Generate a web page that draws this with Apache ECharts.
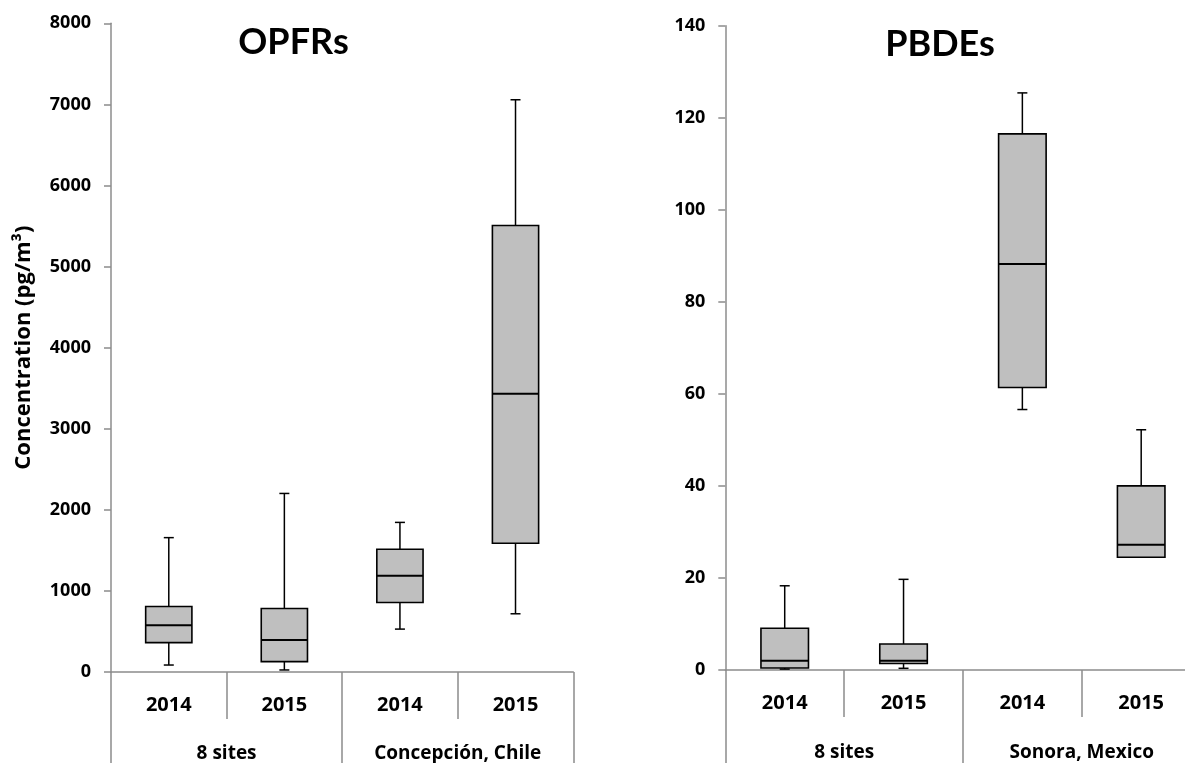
<!DOCTYPE html>
<html>
<head>
<meta charset="utf-8">
<script src="https://cdn.jsdelivr.net/npm/echarts@6/dist/echarts.min.js"></script>
<style>
html,body{margin:0;padding:0;background:#fff;overflow:hidden;}
#chart{width:1230px;height:763px;}
</style>
</head>
<body>
<div id="chart"></div>
<script>
// ---- data ----
const yearsLeft = ['2014', '2015', '2014', '2015'];
const groupsLeft = ['8 sites', 'Concepción, Chile'];
const yearsRight = ['2014', '2015', '2014', '2015'];
const groupsRight = ['8 sites', 'Sonora, Mexico'];

// OPFRs (pg/m3): low whisker, Q1, median, Q3, high whisker
const opfrLow  = [86, 25, 529, 718];
const opfrQ1   = [362, 128, 857, 1587];
const opfrMed  = [578, 394, 1186, 3432];
const opfrQ3   = [808, 783, 1513, 5507];
const opfrHigh = [1657, 2202, 1845, 7057];

// PBDEs (pg/m3)
const pbdeLow  = [0.2, 0.37, 56.6, 24.5];
const pbdeQ1   = [0.43, 1.4, 61.4, 24.5];
const pbdeMed  = [2.0, 2.0, 88.2, 27.2];
const pbdeQ3   = [9.06, 5.65, 116.5, 40.0];
const pbdeHigh = [18.3, 19.7, 125.4, 52.2];

const opfrTicks = { min: 0, max: 8000, interval: 1000 };
const pbdeTicks = { min: 0, max: 140, interval: 20 };

function rows(lo, q1, md, q3, hi) {
  return lo.map((v, i) => [i, lo[i], q1[i], md[i], q3[i], hi[i]]);
}

const FONT = '"Open Sans", "Noto Sans", sans-serif';
const TFONT = 'Lato, "Open Sans", sans-serif';
const AXIS_GRAY = '#8c8c8c';

function renderBox(params, api) {
  const x = api.value(0);
  const low = api.coord([x, api.value(1)]);
  const q1 = api.coord([x, api.value(2)]);
  const med = api.coord([x, api.value(3)]);
  const q3 = api.coord([x, api.value(4)]);
  const high = api.coord([x, api.value(5)]);
  const bw = api.size([1, 0])[0] * 0.4;
  const cx = low[0];
  const cap = 5;
  const ls = { stroke: '#000', lineWidth: 1.5 };
  return {
    type: 'group',
    children: [
      { type: 'line', shape: { x1: cx, y1: q1[1], x2: cx, y2: low[1] }, style: ls },
      { type: 'line', shape: { x1: cx - cap, y1: low[1], x2: cx + cap, y2: low[1] }, style: ls },
      { type: 'line', shape: { x1: cx, y1: q3[1], x2: cx, y2: high[1] }, style: ls },
      { type: 'line', shape: { x1: cx - cap, y1: high[1], x2: cx + cap, y2: high[1] }, style: ls },
      { type: 'rect', shape: { x: cx - bw / 2, y: q3[1], width: bw, height: q1[1] - q3[1] },
        style: { fill: '#bfbfbf', stroke: '#000', lineWidth: 1.6 } },
      { type: 'line', shape: { x1: cx - bw / 2, y1: med[1], x2: cx + bw / 2, y2: med[1] },
        style: { stroke: '#000', lineWidth: 2 } }
    ]
  };
}

function yearAxis(gridIndex, data) {
  return {
    type: 'category', gridIndex: gridIndex, data: data, position: 'bottom',
    axisLine: { show: true, onZero: false, lineStyle: { color: AXIS_GRAY, width: 1.5 } },
    axisTick: { show: true, interval: 0, length: 47, lineStyle: { color: AXIS_GRAY, width: 1.5 } },
    axisLabel: { interval: 0, margin: 23, color: '#000', fontWeight: 'bold', fontSize: 20, fontFamily: FONT },
    splitLine: { show: false }
  };
}
function groupAxis(gridIndex, data, margin) {
  return {
    type: 'category', gridIndex: gridIndex, data: data, position: 'bottom',
    axisLine: { show: false },
    axisTick: { show: true, interval: 0, length: 110, lineStyle: { color: AXIS_GRAY, width: 1.5 } },
    axisLabel: { interval: 0, margin: margin, color: '#000', fontWeight: 'bold', fontSize: 19, fontFamily: FONT },
    splitLine: { show: false }
  };
}
function valueAxis(gridIndex, t, name) {
  return {
    type: 'value', gridIndex: gridIndex, min: t.min, max: t.max, interval: t.interval,
    name: name, nameLocation: 'middle', nameGap: 76,
    nameTextStyle: { color: '#000', fontWeight: 'bold', fontSize: 22, fontFamily: FONT },
    axisLine: { show: true, lineStyle: { color: AXIS_GRAY, width: 1.5 } },
    axisTick: { show: true, length: 7, lineStyle: { color: AXIS_GRAY, width: 1.5 } },
    axisLabel: { margin: 20, color: '#000', fontWeight: 'bold', fontSize: 18, fontFamily: FONT,
      formatter: function (v) { return String(v); } },
    splitLine: { show: false }
  };
}

const chart = echarts.init(document.getElementById('chart'), null, { renderer: 'canvas' });
chart.setOption({
  animation: false,
  backgroundColor: '#fff',
  grid: [
    { left: 111, top: 23.3, width: 462.3, height: 650.4 },
    { left: 725.3, top: 25.7, width: 475.3, height: 644.3 }
  ],
  xAxis: [
    yearAxis(0, yearsLeft),
    groupAxis(0, groupsLeft, 72),
    yearAxis(1, yearsRight),
    groupAxis(1, groupsRight, 73)
  ],
  yAxis: [
    valueAxis(0, opfrTicks, 'Concentration (pg/m³)'),
    valueAxis(1, pbdeTicks, '')
  ],
  graphic: [
    { type: 'text', x: 293.5, y: 42, style: { text: 'OPFRs', font: 'bold 36px ' + TFONT, fill: '#000',
      align: 'center', verticalAlign: 'middle', textAlign: 'center', textVerticalAlign: 'middle' } },
    { type: 'text', x: 940, y: 44, style: { text: 'PBDEs', font: 'bold 36px ' + TFONT, fill: '#000',
      align: 'center', verticalAlign: 'middle', textAlign: 'center', textVerticalAlign: 'middle' } }
  ],
  series: [
    { type: 'custom', name: 'OPFRs', xAxisIndex: 0, yAxisIndex: 0, renderItem: renderBox,
      encode: { x: 0, y: [1, 2, 3, 4, 5] }, data: rows(opfrLow, opfrQ1, opfrMed, opfrQ3, opfrHigh) },
    { type: 'custom', name: 'PBDEs', xAxisIndex: 2, yAxisIndex: 1, renderItem: renderBox,
      encode: { x: 0, y: [1, 2, 3, 4, 5] }, data: rows(pbdeLow, pbdeQ1, pbdeMed, pbdeQ3, pbdeHigh) }
  ]
});
</script>
</body>
</html>
